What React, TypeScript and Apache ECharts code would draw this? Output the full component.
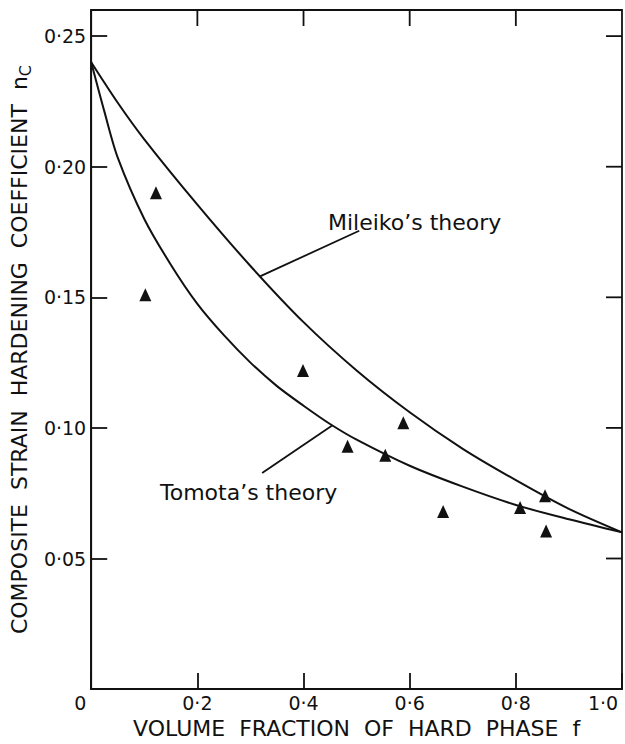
import React, { useEffect, useRef } from "react";
import * as echarts from "echarts";

// Mileiko's theory curve
const mileikoF = [0, 0.05, 0.1, 0.2, 0.3, 0.4, 0.5, 0.6, 0.7, 0.8, 0.9, 1.0];
const mileikoN = [0.24, 0.2245, 0.2105, 0.1855, 0.162, 0.1405, 0.122, 0.106, 0.092, 0.08, 0.069, 0.06];

// Tomota's theory curve
const tomotaF = [0, 0.025, 0.05, 0.1, 0.15, 0.2, 0.25, 0.3, 0.35, 0.4, 0.45, 0.5, 0.6, 0.7, 0.8, 0.9, 1.0];
const tomotaN = [0.24, 0.221, 0.2035, 0.18, 0.1625, 0.1475, 0.1355, 0.125, 0.116, 0.1085, 0.1015, 0.0955, 0.0855, 0.0775, 0.0705, 0.065, 0.06];

// Experimental points (triangles)
const dataF = [0.122, 0.102, 0.399, 0.483, 0.554, 0.588, 0.663, 0.808, 0.855, 0.857];
const dataN = [0.19, 0.151, 0.122, 0.093, 0.0895, 0.102, 0.068, 0.0695, 0.074, 0.0605];

// Leader lines for the annotations (data coordinates)
const mileikoLeaderF = [0.318, 0.505];
const mileikoLeaderN = [0.158, 0.1755];
const tomotaLeaderF = [0.454, 0.322];
const tomotaLeaderN = [0.1009, 0.0827];

const xTicks = [0, 0.2, 0.4, 0.6, 0.8, 1.0];
const yTicks = [0.05, 0.1, 0.15, 0.2, 0.25];
const xInnerTicks = [0.2, 0.4, 0.6, 0.8];

const X_MIN = 0;
const X_MAX = 1;
const Y_MIN = 0;
const Y_MAX = 0.26;

const FONT = "DejaVu Sans";
const INK = "#111111";
const TICK_LEN = 16;

const pairs = (xs: number[], ys: number[]) => xs.map((x, i) => [x, ys[i]]);
const fmt = (v: number, d: number) => v.toFixed(d).replace(".", "\u00b7");

// mirrored ticks on the top and right frame: [value, kind] kind 0 = top, 1 = right
const mirrorTickData = [...xInnerTicks.map((v) => [v, 0]), ...yTicks.map((v) => [v, 1])];

export default function App() {
  const ref = useRef<HTMLDivElement>(null);
  useEffect(() => {
    document.body.style.margin = "0";
    const chart = echarts.init(ref.current!, null, { renderer: "svg" });
    const tickStyle = { stroke: INK, lineWidth: 1.8 };
    chart.setOption({
      animation: false,
      grid: {
        left: 91,
        right: 3,
        top: 10,
        bottom: 48,
        show: true,
        borderColor: INK,
        borderWidth: 1.8,
        backgroundColor: "transparent",
      },
      xAxis: {
        type: "value",
        min: X_MIN,
        max: X_MAX,
        interval: 0.2,
        splitLine: { show: false },
        axisLine: { show: true, onZero: false, lineStyle: { color: INK, width: 1.8 } },
        axisTick: { show: true, inside: true, length: TICK_LEN, lineStyle: { color: INK, width: 1.8 } },
        axisLabel: {
          margin: 4,
          fontFamily: FONT,
          fontSize: 19,
          color: INK,
          formatter: (v: number) => {
            if (!xTicks.some((t) => Math.abs(t - v) < 1e-6)) return "";
            if (Math.abs(v) < 1e-6) return "{z|0}";
            if (Math.abs(v - 1) < 1e-6) return "{e|" + fmt(v, 1) + "}";
            return fmt(v, 1);
          },
          rich: {
            z: { fontFamily: FONT, fontSize: 19, color: INK, padding: [0, 22, 0, 0] },
            e: { fontFamily: FONT, fontSize: 19, color: INK, padding: [0, 38, 0, 0] },
          },
        },
        name: "VOLUME  FRACTION  OF  HARD  PHASE  f",
        nameLocation: "middle",
        nameGap: 24,
        nameTextStyle: { fontFamily: FONT, fontSize: 22, color: INK },
      },
      yAxis: {
        type: "value",
        min: Y_MIN,
        max: Y_MAX,
        interval: 0.05,
        splitLine: { show: false },
        axisLine: { show: true, onZero: false, lineStyle: { color: INK, width: 1.8 } },
        axisTick: { show: true, inside: true, length: TICK_LEN, lineStyle: { color: INK, width: 1.8 } },
        axisLabel: {
          margin: 5,
          fontFamily: FONT,
          fontSize: 19,
          color: INK,
          showMaxLabel: false,
          formatter: (v: number) => (yTicks.some((t) => Math.abs(t - v) < 1e-6) ? fmt(v, 2) : ""),
        },
        name: "COMPOSITE  STRAIN  HARDENING  COEFFICIENT  n{sub|C}",
        nameLocation: "middle",
        nameGap: 56,
        nameRotate: 90,
        nameTextStyle: {
          fontFamily: FONT,
          fontSize: 22,
          color: INK,
          rich: {
            sub: { fontFamily: FONT, fontSize: 16, color: INK, padding: [12, 0, 0, 0], verticalAlign: "bottom" },
          },
        },
      },
      graphic: [
        {
          type: "text",
          x: 328,
          y: 222,
          style: { text: "Mileiko\u2019s theory", font: `22px "${FONT}"`, fill: INK, verticalAlign: "middle" },
        },
        {
          type: "text",
          x: 160,
          y: 492,
          style: { text: "Tomota\u2019s theory", font: `22px "${FONT}"`, fill: INK, verticalAlign: "middle" },
        },
      ],
      series: [
        {
          type: "custom",
          data: mirrorTickData,
          silent: true,
          z: 10,
          renderItem: (params: any, api: any) => {
            const v = api.value(0);
            const kind = api.value(1);
            if (kind === 0) {
              const t = api.coord([v, Y_MAX]);
              return { type: "line", shape: { x1: t[0], y1: t[1], x2: t[0], y2: t[1] + TICK_LEN }, style: tickStyle };
            }
            const r = api.coord([X_MAX, v]);
            return { type: "line", shape: { x1: r[0], y1: r[1], x2: r[0] - TICK_LEN, y2: r[1] }, style: tickStyle };
          },
        },
        {
          type: "line",
          data: pairs(mileikoF, mileikoN),
          smooth: 0.3,
          showSymbol: false,
          symbol: "none",
          lineStyle: { color: INK, width: 2 },
        },
        {
          type: "line",
          data: pairs(tomotaF, tomotaN),
          smooth: 0.3,
          showSymbol: false,
          symbol: "none",
          lineStyle: { color: INK, width: 2 },
        },
        {
          type: "line",
          data: pairs(mileikoLeaderF, mileikoLeaderN),
          symbol: "none",
          lineStyle: { color: INK, width: 1.8 },
        },
        {
          type: "line",
          data: pairs(tomotaLeaderF, tomotaLeaderN),
          symbol: "none",
          lineStyle: { color: INK, width: 1.8 },
        },
        {
          type: "scatter",
          data: pairs(dataF, dataN),
          symbol: "triangle",
          symbolSize: [12, 13],
          itemStyle: { color: INK, opacity: 1 },
        },
      ],
    });
    return () => chart.dispose();
  }, []);
  return <div ref={ref} style={{ width: 625, height: 744 }} />;
}
